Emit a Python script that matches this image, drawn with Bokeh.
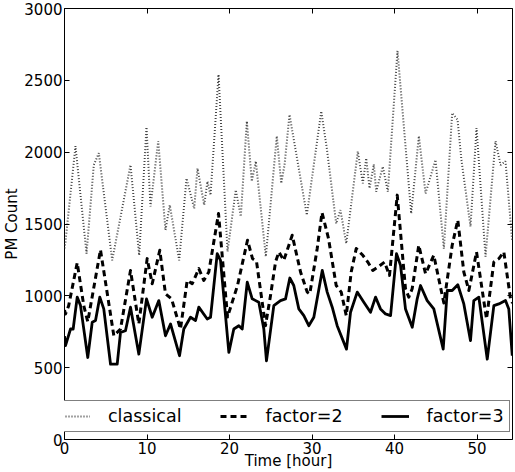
from bokeh.plotting import figure
from bokeh.models import Range1d, LinearAxis, FixedTicker, Legend, LegendItem
from bokeh.embed import file_html
from bokeh.resources import INLINE

# ---- data (hours, PM count) ----
t_classical = [0, 0.12, 1.33, 2.67, 3.55, 4.16, 5.78, 8.0, 9.05, 9.94, 10.42, 11.36, 12.24, 12.76,
               13.90, 14.79, 15.72, 16.12, 16.93, 17.33, 17.70, 18.67, 19.76, 20.76, 21.37, 22.10,
               22.70, 23.19, 24.40, 25.73, 26.27, 26.67, 27.27, 29.37, 31.12, 31.79, 32.93, 33.45,
               34.15, 35.55, 36.16, 36.57, 36.97, 37.49, 37.78, 38.58, 39.19, 40.36, 42.02, 42.95,
               43.76, 44.97, 45.98, 46.99, 47.64, 48.10, 49.21, 49.94, 51.03, 52.24, 52.85, 53.45, 54.27]
classical = [1330, 1378, 2042, 1294, 1911, 1993, 1247, 1911, 1282, 2175, 1622, 2077, 1457, 1632,
             1247, 1818, 1608, 1888, 1632, 1797, 1701, 2540, 1308, 1737, 1552, 2216,
             1797, 1937, 1273, 2112, 1783, 1911, 2261, 1562, 2285, 2028, 1503, 1597,
             1364, 2005, 1783, 1958, 1748, 1916, 1725, 1900, 1725, 2706, 1573, 2112,
             1713, 1946, 1329, 2273, 2226, 1950, 1482, 2168, 1273, 2077, 1911, 1937, 1378]

t_factor2 = [0, 0.12, 0.5, 1.54, 2.34, 2.82, 4.36, 5.98, 6.79, 8.0, 9.01, 10.02, 10.63, 11.55, 12.24,
             12.97, 14.06, 14.87, 15.48, 16.28, 16.88, 17.49, 18.67, 19.76, 20.97, 22.18, 22.79,
             23.27, 24.36, 24.97, 25.58, 25.98, 26.58, 27.60, 28.61, 29.42, 29.73, 30.63, 31.21,
             32.0, 32.93, 33.54, 34.15, 34.75, 35.36, 36.16, 36.76, 37.37, 37.98, 38.79, 39.39,
             40.33, 41.33, 41.73, 42.14, 42.94, 43.76, 44.76, 45.98, 46.99, 47.67, 48.40, 49.01,
             49.94, 51.15, 52.04, 52.65, 53.25, 54.06, 54.3]
factor2 = [900, 874, 930, 1230, 930, 820, 1320, 722, 769, 1177, 804, 1259, 1084, 1317, 1014,
           979, 769, 1107, 1084, 1189, 1107, 1166, 1573, 853, 1072, 1387, 1259,
           1240, 792, 1002, 1236, 1305, 1247, 1422, 1166, 1026, 1014, 1329, 1580,
           1399, 1072, 1026, 862, 1166, 1329, 1282, 1235, 1177, 1200, 1235, 1142,
           1701, 1049, 991, 1049, 1352, 1154, 1282, 950, 1352, 1527, 1166, 1037,
           1305, 839, 1235, 1259, 1305, 979, 950]

t_factor3 = [0, 0.12, 0.73, 1.05, 1.54, 1.94, 2.82, 3.36, 3.76, 4.28, 4.76, 5.58, 6.39, 6.79, 7.39,
             8.0, 9.01, 9.94, 10.63, 11.03, 11.43, 12.24, 12.85, 13.94, 14.46, 15.27, 15.88, 16.28,
             17.30, 17.70, 18.51, 18.91, 19.92, 20.52, 21.13, 21.54, 22.15, 22.75, 23.55, 24.16,
             24.48, 25.37, 26.18, 26.79, 27.31, 27.79, 28.40, 29.01, 29.61, 30.22, 31.24, 31.84,
             32.45, 33.05, 34.18, 34.67, 35.48, 36.28, 37.09, 37.70, 38.30, 38.91, 39.52, 40.24,
             40.73, 41.33, 42.15, 42.75, 43.15, 43.96, 44.76, 45.90, 46.39, 46.99, 47.67, 48.40,
             49.21, 49.61, 50.22, 51.24, 52.04, 52.65, 53.45, 53.85, 54.27]
factor3 = [720, 653, 769, 769, 991, 932, 571, 816, 828, 991, 909, 524, 524, 746, 757,
           921, 594, 979, 851, 909, 967, 722, 804, 583, 769, 851, 828, 921,
           839, 851, 1294, 1247, 606, 769, 792, 769, 1096, 979, 956, 769,
           548, 932, 967, 979, 1124, 1072, 909, 862, 792, 851, 1177, 1026,
           921, 792, 629, 886, 1026, 956, 886, 991, 909, 874, 862, 1294,
           1212, 909, 781, 979, 1072, 967, 909, 629, 1037, 1037, 1077, 944,
           688, 967, 991, 559, 932, 944, 967, 909, 583]

x_ticks = [0, 10, 20, 30, 40, 50]
y_ticks = [0, 500, 1000, 1500, 2000, 2500, 3000]
labels = ["classical", "factor=2", "factor=3"]
x_title = "Time [hour]"
y_title = "PM Count"
X_MAX = 54.3

FONT = "DejaVu Sans"

p = figure(width=515, height=472, output_backend="svg", toolbar_location=None,
           x_range=Range1d(0, X_MAX), y_range=Range1d(0, 3000),
           min_border_left=50, min_border_right=3, min_border_top=8, min_border_bottom=0)
p.grid.visible = False
p.outline_line_color = "black"
p.outline_line_width = 1
p.background_fill_color = "white"
p.border_fill_color = "white"

for ax in (p.xaxis[0], p.yaxis[0]):
    ax.major_tick_in = 5
    ax.major_tick_out = 0
    ax.minor_tick_line_color = None
    ax.axis_line_color = None
    ax.major_label_text_font = FONT
    ax.major_label_text_font_size = "15px"
    ax.major_label_text_color = "black"
    ax.axis_label_text_font = FONT
    ax.axis_label_text_font_size = "15px"
    ax.axis_label_text_font_style = "normal"
    ax.axis_label_text_color = "black"
    ax.axis_label_standoff = 0
    ax.major_label_standoff = 2

p.xaxis[0].axis_label_standoff = -5
p.xaxis[0].ticker = FixedTicker(ticks=x_ticks)
p.yaxis[0].ticker = FixedTicker(ticks=y_ticks)
p.xaxis[0].axis_label = x_title
p.yaxis[0].axis_label = y_title

top = LinearAxis(ticker=FixedTicker(ticks=x_ticks))
right = LinearAxis(ticker=FixedTicker(ticks=y_ticks))
for ax in (top, right):
    ax.major_tick_in = 5
    ax.major_tick_out = 0
    ax.minor_tick_line_color = None
    ax.axis_line_color = None
    ax.major_label_text_font_size = "1px"
    ax.major_label_text_color = None
    ax.major_label_standoff = 0
    ax.axis_label_standoff = 0
p.add_layout(top, "above")
p.add_layout(right, "right")

r1 = p.line(t_classical, classical, line_color="#444444", line_width=2, line_dash="1 2")
r2 = p.line(t_factor2, factor2, line_color="black", line_width=3, line_dash="6 4", line_join="round")
r3 = p.line(t_factor3, factor3, line_color="black", line_width=2.8, line_join="round")

legend = Legend(items=[LegendItem(label=labels[0], renderers=[r1]),
                       LegendItem(label=labels[1], renderers=[r2]),
                       LegendItem(label=labels[2], renderers=[r3])],
                orientation="horizontal", location=(-8, 7),
                label_text_font=FONT, label_text_font_size="17.5px", label_text_color="black",
                glyph_width=28, label_standoff=18, spacing=38, padding=5,
                label_height=18, glyph_height=18,
                border_line_color="black", border_line_width=1,
                background_fill_color="white", background_fill_alpha=1)
p.add_layout(legend, "center")

open("out.html", "w").write(file_html(p, INLINE))
